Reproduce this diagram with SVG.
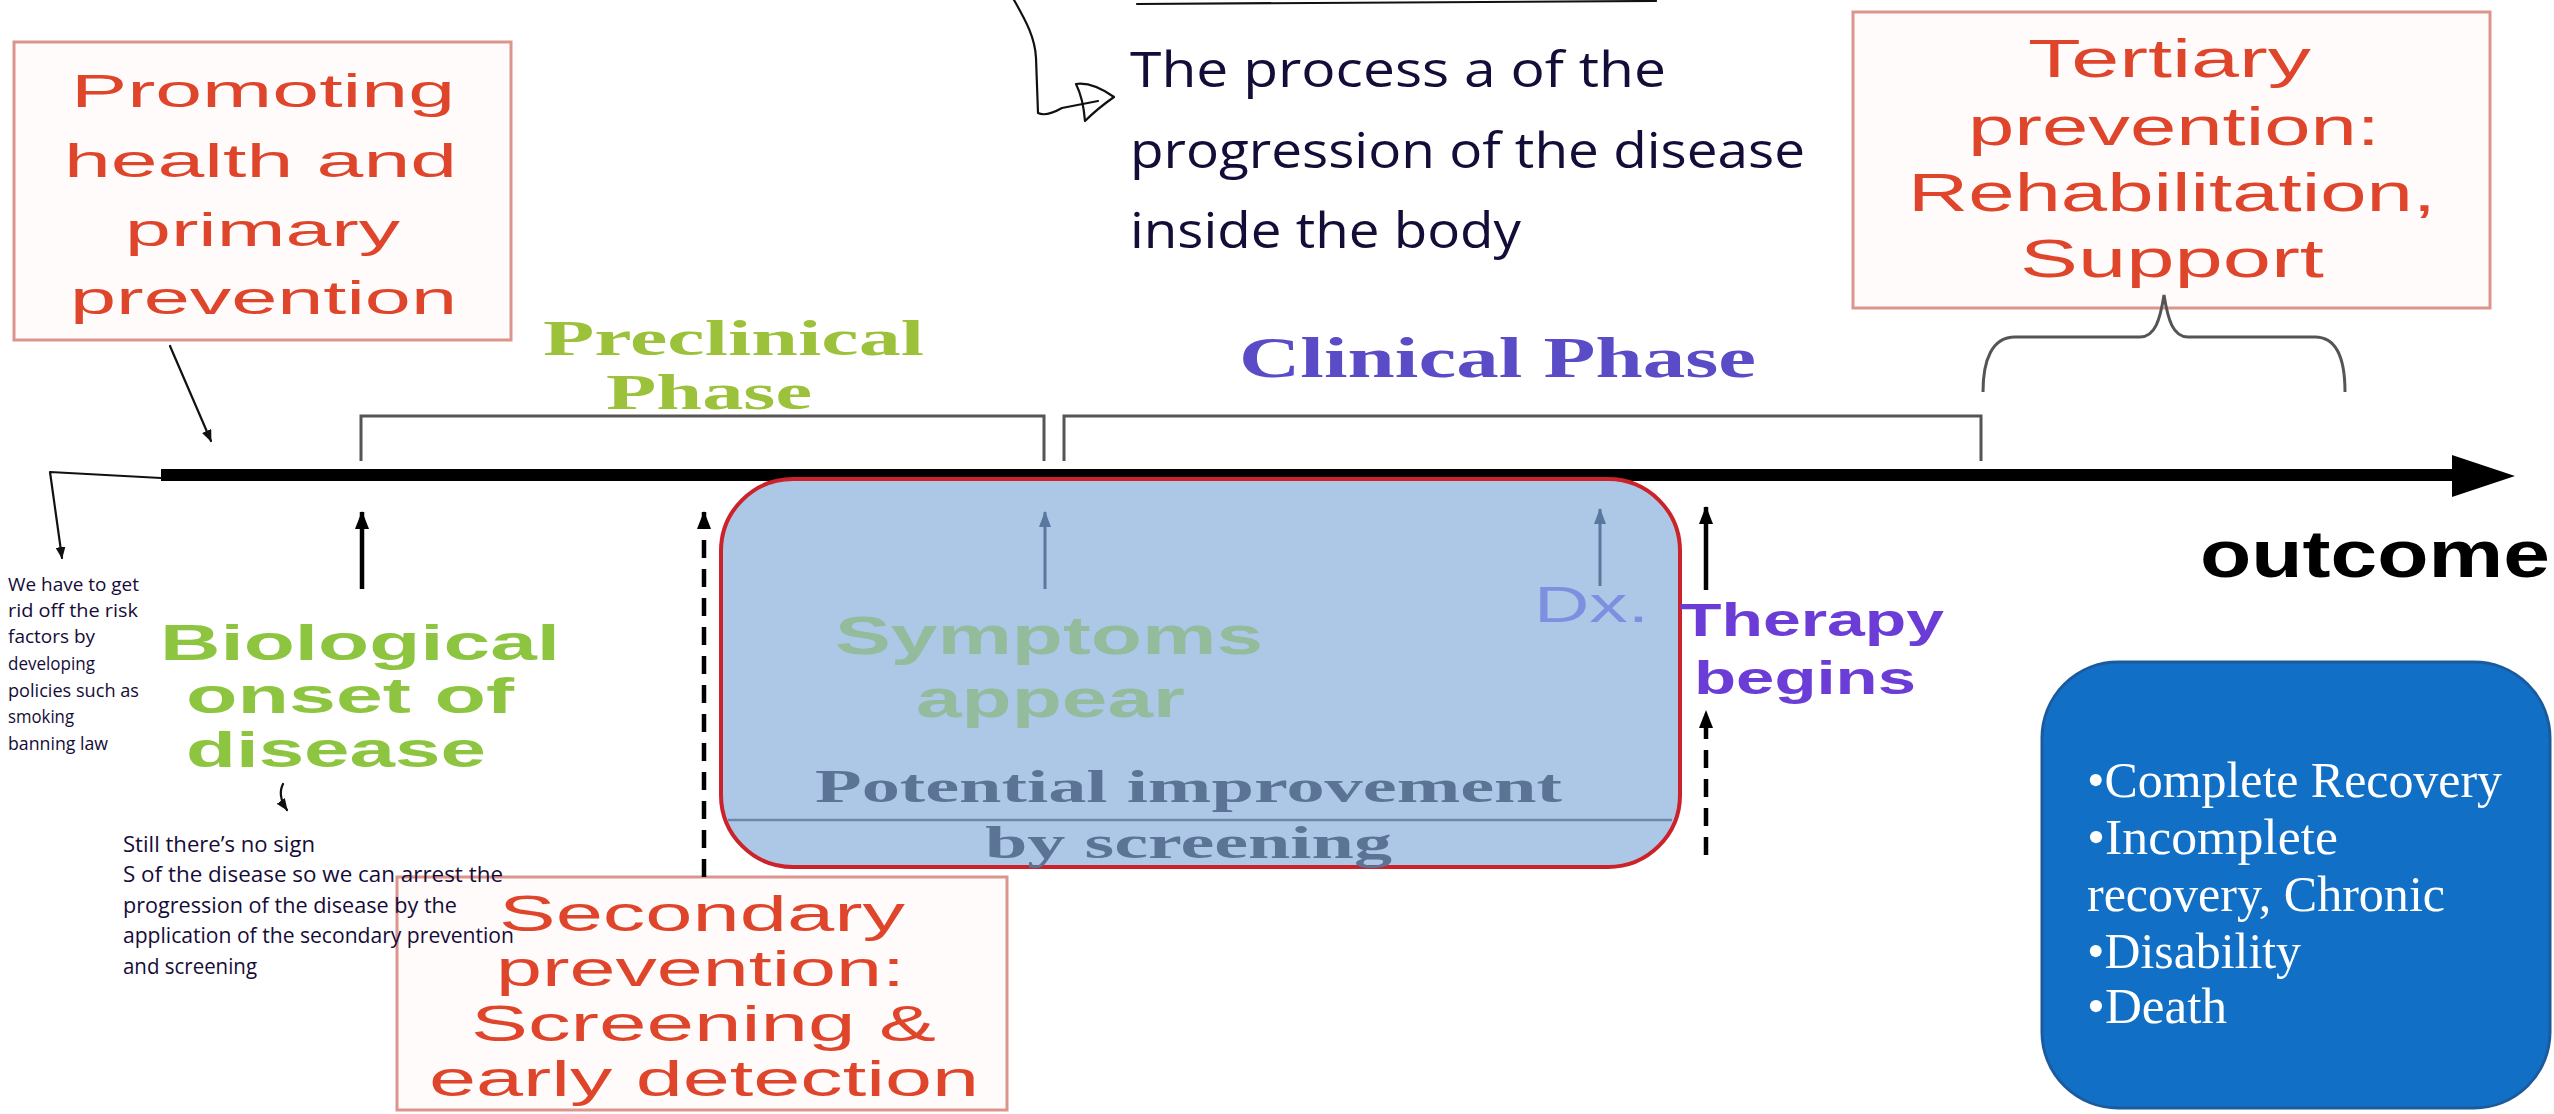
<svg xmlns="http://www.w3.org/2000/svg" width="2554" height="1114" viewBox="0 0 2554 1114">
<defs>
<style>
.redbox{fill:#fffbfa;stroke:#dc958c;stroke-width:3}
.redtxt{font-family:"Liberation Sans",Arial,sans-serif;fill:#df452b}
.hand{font-family:"Open Sans","Liberation Sans",sans-serif;fill:#160c38}
.bold{font-family:"Liberation Sans",Arial,sans-serif;font-weight:bold}
.serifb{font-family:"Liberation Serif","Times New Roman",serif;font-weight:bold}
.bracket{fill:none;stroke:#555;stroke-width:3}
.pen{fill:none;stroke:#111;stroke-width:2.2;stroke-linecap:round;stroke-linejoin:round}
.blk{stroke:#000;stroke-width:4.5}
.dash{stroke:#000;stroke-width:4.5;stroke-dasharray:18 11}
.slate{stroke:#5878a0;stroke-width:3}
.outtxt{font-family:"Liberation Serif","Times New Roman",serif;fill:#fff;font-size:50px}
</style>
<marker id="ah" viewBox="0 0 18 14" refX="17" refY="7" markerWidth="18" markerHeight="14" markerUnits="userSpaceOnUse" orient="auto"><path d="M0,0 L18,7 L0,14 Z" fill="#000"/></marker>
<marker id="ahs" viewBox="0 0 16 12" refX="15" refY="6" markerWidth="16" markerHeight="12" markerUnits="userSpaceOnUse" orient="auto"><path d="M0,0 L16,6 L0,12 Z" fill="#5878a0"/></marker>
<marker id="pah" viewBox="0 0 12 10" refX="11" refY="5" markerWidth="12" markerHeight="10" markerUnits="userSpaceOnUse" orient="auto"><path d="M0,0 L12,5 L0,10 Z" fill="#111"/></marker>
</defs>
<rect width="2554" height="1114" fill="#fff"/>

<g id="timeline">
<line x1="161" y1="475" x2="2456" y2="475" stroke="#000" stroke-width="12"/>
<polygon points="2452,455 2515,476 2452,497" fill="#000"/>
</g>

<g id="node-screening-window">
<rect x="721" y="479" width="959" height="388" rx="72" fill="#adc7e7" stroke="#cc2229" stroke-width="4"/>
<line x1="728" y1="820" x2="1672" y2="820" stroke="#6f88aa" stroke-width="2.5"/>
<text class="bold" x="835" y="654" font-size="54" fill="#93bc9c" textLength="428" lengthAdjust="spacingAndGlyphs">Symptoms</text>
<text class="bold" x="916" y="717" font-size="54" fill="#93bc9c" textLength="269" lengthAdjust="spacingAndGlyphs">appear</text>
<text class="serifb" x="815" y="802" font-size="46" fill="#5b7394" textLength="747" lengthAdjust="spacingAndGlyphs">Potential improvement</text>
<text class="serifb" x="985" y="858" font-size="46" fill="#5b7394" textLength="407" lengthAdjust="spacingAndGlyphs">by screening</text>
<text x="1534" y="622" font-family="Liberation Sans,Arial,sans-serif" font-size="50" fill="#7d8fdf" textLength="115" lengthAdjust="spacingAndGlyphs">Dx.</text>
</g>

<g id="node-promoting">
<rect class="redbox" x="14" y="42" width="497" height="298"/>
<text class="redtxt" x="71" y="107" font-size="46" textLength="384" lengthAdjust="spacingAndGlyphs">Promoting</text>
<text class="redtxt" x="64" y="177" font-size="46" textLength="393" lengthAdjust="spacingAndGlyphs">health and</text>
<text class="redtxt" x="125" y="246" font-size="46" textLength="275" lengthAdjust="spacingAndGlyphs">primary</text>
<text class="redtxt" x="70" y="314" font-size="46" textLength="387" lengthAdjust="spacingAndGlyphs">prevention</text>
</g>

<g id="node-tertiary">
<rect class="redbox" x="1853" y="12" width="637" height="296"/>
<text class="redtxt" x="2028" y="77" font-size="54" textLength="283" lengthAdjust="spacingAndGlyphs">Tertiary</text>
<text class="redtxt" x="1968" y="145" font-size="54" textLength="412" lengthAdjust="spacingAndGlyphs">prevention:</text>
<text class="redtxt" x="1908" y="211" font-size="54" textLength="528" lengthAdjust="spacingAndGlyphs">Rehabilitation,</text>
<text class="redtxt" x="2020" y="277" font-size="54" textLength="304" lengthAdjust="spacingAndGlyphs">Support</text>
</g>

<g id="node-secondary">
<rect class="redbox" x="397" y="877" width="610" height="233"/>
<text class="redtxt" x="499" y="931" font-size="50" textLength="406" lengthAdjust="spacingAndGlyphs">Secondary</text>
<text class="redtxt" x="496" y="986" font-size="50" textLength="409" lengthAdjust="spacingAndGlyphs">prevention:</text>
<text class="redtxt" x="471" y="1041" font-size="50" textLength="465" lengthAdjust="spacingAndGlyphs">Screening &amp;</text>
<text class="redtxt" x="429" y="1096" font-size="50" textLength="550" lengthAdjust="spacingAndGlyphs">early detection</text>
</g>

<g id="node-preclinical-label">
<text class="serifb" x="543" y="355" font-size="50" fill="#9cc23c" textLength="381" lengthAdjust="spacingAndGlyphs">Preclinical</text>
<text class="serifb" x="606" y="409" font-size="50" fill="#9cc23c" textLength="206" lengthAdjust="spacingAndGlyphs">Phase</text>
</g>

<g id="node-clinical-label">
<text class="serifb" x="1239" y="377" font-size="58" fill="#5a4cc6" textLength="517" lengthAdjust="spacingAndGlyphs">Clinical Phase</text>
</g>

<g id="node-biological">
<text class="bold" x="160" y="660" font-size="50" fill="#8dc540" textLength="400" lengthAdjust="spacingAndGlyphs">Biological</text>
<text class="bold" x="186" y="713" font-size="50" fill="#8dc540" textLength="328" lengthAdjust="spacingAndGlyphs">onset of</text>
<text class="bold" x="186" y="767" font-size="50" fill="#8dc540" textLength="300" lengthAdjust="spacingAndGlyphs">disease</text>
</g>

<g id="node-therapy">
<text class="bold" x="1680" y="636" font-size="46" fill="#6b3dd6" textLength="264" lengthAdjust="spacingAndGlyphs">Therapy</text>
<text class="bold" x="1694" y="694" font-size="46" fill="#6b3dd6" textLength="222" lengthAdjust="spacingAndGlyphs">begins</text>
</g>

<g id="node-outcome">
<text class="bold" x="2200" y="577" font-size="66" fill="#000" textLength="350" lengthAdjust="spacingAndGlyphs">outcome</text>
</g>

<g id="node-outcome-list">
<rect x="2042" y="662" width="508" height="446" rx="76" fill="#1170c6" stroke="#1b5a9e" stroke-width="3"/>
<text class="outtxt" x="2087" y="797" textLength="415" lengthAdjust="spacingAndGlyphs">•Complete Recovery</text>
<text class="outtxt" x="2087" y="854" textLength="251" lengthAdjust="spacingAndGlyphs">•Incomplete</text>
<text class="outtxt" x="2087" y="911" textLength="358" lengthAdjust="spacingAndGlyphs">recovery, Chronic</text>
<text class="outtxt" x="2087" y="968" textLength="214" lengthAdjust="spacingAndGlyphs">•Disability</text>
<text class="outtxt" x="2087" y="1023" textLength="140" lengthAdjust="spacingAndGlyphs">•Death</text>
</g>

<g id="node-note-process">
<text class="hand" x="1130" y="87" font-size="50" textLength="536" lengthAdjust="spacingAndGlyphs">The process a of the</text>
<text class="hand" x="1130" y="168" font-size="50" textLength="675" lengthAdjust="spacingAndGlyphs">progression of the disease</text>
<text class="hand" x="1130" y="248" font-size="50" textLength="391" lengthAdjust="spacingAndGlyphs">inside the body</text>
</g>

<g id="node-note-risk">
<text class="hand" x="8" y="591" font-size="19" textLength="131" lengthAdjust="spacingAndGlyphs">We have to get</text>
<text class="hand" x="8" y="617" font-size="19" textLength="130" lengthAdjust="spacingAndGlyphs">rid off the risk</text>
<text class="hand" x="8" y="643" font-size="19" textLength="87" lengthAdjust="spacingAndGlyphs">factors by</text>
<text class="hand" x="8" y="670" font-size="19" textLength="87" lengthAdjust="spacingAndGlyphs">developing</text>
<text class="hand" x="8" y="697" font-size="19" textLength="131" lengthAdjust="spacingAndGlyphs">policies such as</text>
<text class="hand" x="8" y="723" font-size="19" textLength="66" lengthAdjust="spacingAndGlyphs">smoking</text>
<text class="hand" x="8" y="750" font-size="19" textLength="100" lengthAdjust="spacingAndGlyphs">banning law</text>
</g>

<g id="node-note-signs">
<text class="hand" x="123" y="852" font-size="22" textLength="192" lengthAdjust="spacingAndGlyphs">Still there’s no sign</text>
<text class="hand" x="123" y="882" font-size="22" textLength="380" lengthAdjust="spacingAndGlyphs">S of the disease so we can arrest the</text>
<text class="hand" x="123" y="913" font-size="22" textLength="334" lengthAdjust="spacingAndGlyphs">progression of the disease by the</text>
<text class="hand" x="123" y="943" font-size="22" textLength="391" lengthAdjust="spacingAndGlyphs">application of the secondary prevention</text>
<text class="hand" x="123" y="974" font-size="22" textLength="134" lengthAdjust="spacingAndGlyphs">and screening</text>
</g>

<g id="connectors">
<path class="bracket" d="M361,461 V416 H1044 V461"/>
<path class="bracket" d="M1064,461 V416 H1981 V461"/>
<path class="bracket" d="M1983,392 C1983,360 1992,337 2015,337 H2140 C2155,337 2160,320 2164,295 C2168,320 2173,337 2188,337 H2315 C2338,337 2345,360 2345,392"/>
<line class="blk" x1="362" y1="589" x2="362" y2="512" marker-end="url(#ah)"/>
<line class="dash" x1="704" y1="877" x2="704" y2="512" marker-end="url(#ah)"/>
<line class="slate" x1="1045" y1="589" x2="1045" y2="512" marker-end="url(#ahs)"/>
<line class="slate" x1="1600" y1="586" x2="1600" y2="509" marker-end="url(#ahs)"/>
<line class="blk" x1="1706" y1="590" x2="1706" y2="507" marker-end="url(#ah)"/>
<line class="dash" x1="1706" y1="855" x2="1706" y2="711" marker-end="url(#ah)"/>
<path class="pen" d="M170,346 L211,441" marker-end="url(#pah)"/>
<path class="pen" d="M161,478 L50,472 L62,558" marker-end="url(#pah)"/>
<path class="pen" d="M283,784 C279,792 280,800 287,810" marker-end="url(#pah)"/>
<path class="pen" d="M1137,4 L1656,1"/>
<path class="pen" d="M1014,0 C1024,18 1035,36 1036,58 L1038,113 Q1046,117 1062,108 L1098,101"/>
<path class="pen" d="M1076,84 C1090,82 1104,90 1114,97 C1104,104 1094,112 1085,121 C1084,108 1082,96 1076,84 Z"/>
</g>
</svg>
